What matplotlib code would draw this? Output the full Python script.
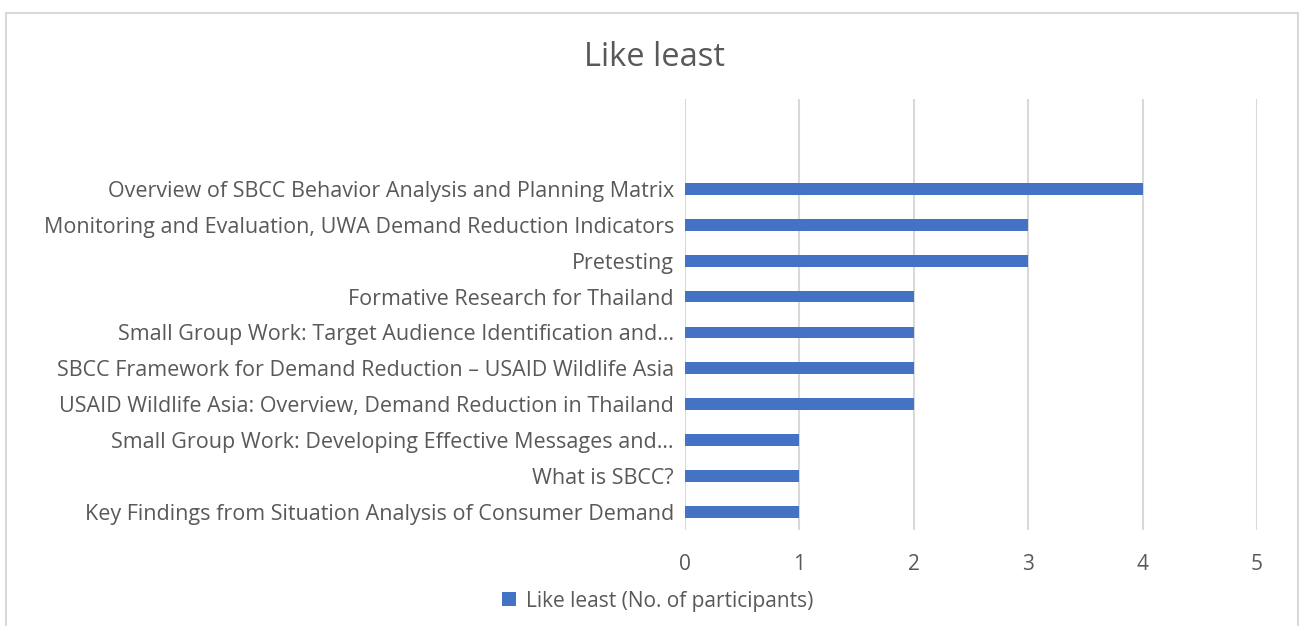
import matplotlib
matplotlib.use("Agg")
import matplotlib.pyplot as plt
from matplotlib.patches import Rectangle

categories = [
    "Key Findings from Situation Analysis of Consumer Demand",
    "What is SBCC?",
    "Small Group Work: Developing Effective Messages and…",
    "USAID Wildlife Asia: Overview, Demand Reduction in Thailand",
    "SBCC Framework for Demand Reduction – USAID Wildlife Asia",
    "Small Group Work: Target Audience Identification and…",
    "Formative Research for Thailand",
    "Pretesting",
    "Monitoring and Evaluation, UWA Demand Reduction Indicators",
    "Overview of SBCC Behavior Analysis and Planning Matrix",
]
values = [1, 1, 1, 2, 2, 2, 2, 3, 3, 4]
series_name = "Like least (No. of participants)"
title = "Like least"
xticks = [0, 1, 2, 3, 4, 5]

plt.rcParams['font.family'] = ['Open Sans', 'DejaVu Sans']
txt = '#595959'
W, H = 1299, 626
fig = plt.figure(figsize=(W/100, H/100), dpi=100)
fig.patch.set_facecolor('white')

fig.patches.append(Rectangle((6/W, -0.05), (1298-6)/W, 1.05 - 13/H,
                             transform=fig.transFigure, fill=False,
                             edgecolor='#d9d9d9', linewidth=1.5))

ax = fig.add_axes([685/W, 1-530/H, 572/W, (530-99)/H])
pos = list(range(len(categories)))
bars = ax.barh(pos, values, height=0.33, color='#4472C4', label=series_name, zorder=3)
ax.set_ylim(-0.5, len(categories) + 1.5)
ax.set_xlim(0, 5)
ax.set_xticks(xticks)
ax.set_yticks(pos)
ax.set_yticklabels(categories, fontsize=15.5, color=txt)
ax.set_xticklabels([str(t) for t in xticks], fontsize=15, color=txt)
ax.tick_params(axis='both', length=0)
ax.tick_params(axis='y', pad=8)
ax.tick_params(axis='x', pad=17)
for s in ax.spines.values():
    s.set_visible(False)
ax.grid(axis='x', color='#d9d9d9', linewidth=1.5, zorder=0)
ax.set_axisbelow(True)

fig.text(655/W, 1-57/H, title, ha='center', va='center', fontsize=23.5, color=txt)

fig.legend(handles=[bars], labels=[series_name], loc='center',
           bbox_to_anchor=(658/W, 1-601/H), frameon=False, fontsize=15,
           labelcolor=txt, handlelength=0.65, handleheight=0.65, handletextpad=0.5)

fig.savefig('out.png', dpi=100)
